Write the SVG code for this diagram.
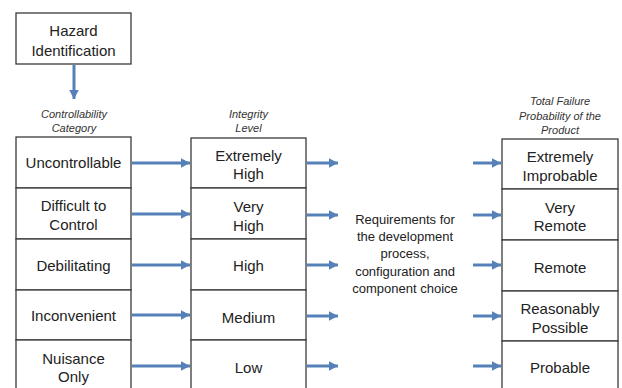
<svg xmlns="http://www.w3.org/2000/svg" width="622" height="388" viewBox="0 0 622 388">
<style>
.box{fill:#fff;stroke:#3a3a3a;stroke-width:1.3}
.t{font-family:"Liberation Sans",Arial,sans-serif;font-size:15px;fill:#222;text-anchor:middle}
.h{font-family:"Liberation Sans",Arial,sans-serif;font-size:11px;font-style:italic;fill:#333;text-anchor:middle}
.r{font-family:"Liberation Sans",Arial,sans-serif;font-size:13px;fill:#222;text-anchor:middle}
.a{stroke:#5581b8;stroke-width:3;fill:none;marker-end:url(#ah)}
</style>
<defs>
<marker id="ah" markerWidth="3" markerHeight="4" refX="3" refY="2" orient="auto" markerUnits="strokeWidth">
<path d="M0,0.4 L3,2 L0,3.6 Z" fill="#5581b8"/>
</marker>
</defs>
<rect width="622" height="388" fill="#fff"/>
<g id="hazard"><rect class="box" x="16" y="13" width="115" height="51"/><text class="t" x="73.5" y="36">Hazard</text><text class="t" x="73.5" y="56">Identification</text></g>
<g id="labels">
<text class="h" x="74" y="118">Controllability</text><text class="h" x="74" y="132">Category</text>
<text class="h" x="248.5" y="118">Integrity</text><text class="h" x="248.5" y="132">Level</text>
<text class="h" x="560" y="105">Total Failure</text><text class="h" x="560" y="120">Probability of the</text><text class="h" x="560" y="134">Product</text>
</g>
<g id="c1"><rect class="box" x="16" y="137" width="115" height="51"/><text class="t" x="73.5" y="168">Uncontrollable</text></g>
<g id="c2"><rect class="box" x="16" y="188" width="115" height="51"/><text class="t" x="73.5" y="211">Difficult to</text><text class="t" x="73.5" y="230">Control</text></g>
<g id="c3"><rect class="box" x="16" y="239" width="115" height="51"/><text class="t" x="73.5" y="271">Debilitating</text></g>
<g id="c4"><rect class="box" x="16" y="290" width="115" height="50"/><text class="t" x="73.5" y="321">Inconvenient</text></g>
<g id="c5"><rect class="box" x="16" y="340" width="115" height="52"/><text class="t" x="73.5" y="364">Nuisance</text><text class="t" x="73.5" y="382">Only</text></g>
<g id="i1"><rect class="box" x="191" y="138" width="115" height="50"/><text class="t" x="248.5" y="161">Extremely</text><text class="t" x="248.5" y="179">High</text></g>
<g id="i2"><rect class="box" x="191" y="188" width="115" height="51"/><text class="t" x="248.5" y="212">Very</text><text class="t" x="248.5" y="231">High</text></g>
<g id="i3"><rect class="box" x="191" y="239" width="115" height="51"/><text class="t" x="248.5" y="271">High</text></g>
<g id="i4"><rect class="box" x="191" y="290" width="115" height="50"/><text class="t" x="248.5" y="323">Medium</text></g>
<g id="i5"><rect class="box" x="191" y="340" width="115" height="52"/><text class="t" x="248.5" y="373">Low</text></g>
<g id="req"><text class="r" x="405" y="224">Requirements for</text><text class="r" x="405" y="241">the development</text><text class="r" x="405" y="258">process,</text><text class="r" x="405" y="276">configuration and</text><text class="r" x="405" y="293">component choice</text></g>
<g id="p1"><rect class="box" x="502" y="139" width="116" height="50"/><text class="t" x="560" y="162">Extremely</text><text class="t" x="560" y="181">Improbable</text></g>
<g id="p2"><rect class="box" x="502" y="189" width="116" height="51"/><text class="t" x="560" y="213">Very</text><text class="t" x="560" y="231">Remote</text></g>
<g id="p3"><rect class="box" x="502" y="240" width="116" height="51"/><text class="t" x="560" y="273">Remote</text></g>
<g id="p4"><rect class="box" x="502" y="291" width="116" height="50"/><text class="t" x="560" y="314">Reasonably</text><text class="t" x="560" y="333">Possible</text></g>
<g id="p5"><rect class="box" x="502" y="341" width="116" height="51"/><text class="t" x="560" y="373">Probable</text></g>
<g id="connectors">
<line class="a" x1="74" y1="65" x2="74" y2="99"/>
<line class="a" x1="132" y1="163" x2="190" y2="163"/>
<line class="a" x1="132" y1="214" x2="190" y2="214"/>
<line class="a" x1="132" y1="265" x2="190" y2="265"/>
<line class="a" x1="132" y1="315" x2="190" y2="315"/>
<line class="a" x1="132" y1="366" x2="190" y2="366"/>
<line class="a" x1="307" y1="163" x2="338" y2="163"/>
<line class="a" x1="307" y1="215" x2="338" y2="215"/>
<line class="a" x1="307" y1="265" x2="338" y2="265"/>
<line class="a" x1="307" y1="316" x2="338" y2="316"/>
<line class="a" x1="307" y1="366" x2="338" y2="366"/>
<line class="a" x1="473" y1="163" x2="501" y2="163"/>
<line class="a" x1="473" y1="215" x2="501" y2="215"/>
<line class="a" x1="473" y1="265" x2="501" y2="265"/>
<line class="a" x1="473" y1="316" x2="501" y2="316"/>
<line class="a" x1="473" y1="366" x2="501" y2="366"/>
</g>
</svg>
